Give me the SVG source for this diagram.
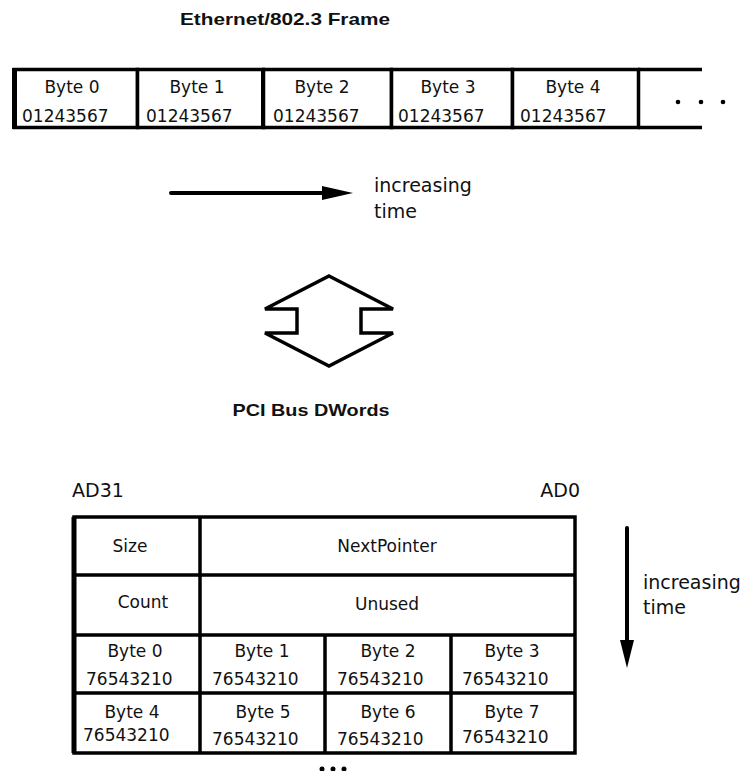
<svg xmlns="http://www.w3.org/2000/svg" width="747" height="771" viewBox="0 0 747 771">
<defs>
<style>
.t{font-family:"DejaVu Sans","Liberation Sans",sans-serif;font-size:17px;fill:#111;}
.c{text-anchor:middle;}
.b{font-family:"Liberation Sans","DejaVu Sans",sans-serif;font-weight:bold;fill:#111;font-size:17px;text-anchor:middle;}
.big{font-size:19px;}
.ln{stroke:#000;stroke-width:3.5;fill:none;}
.cell{stroke:#000;stroke-width:3.5;fill:#fff;}
</style>
</defs>
<rect width="747" height="771" fill="#fff"/>
<text class="b" x="285" y="25" textLength="210" lengthAdjust="spacingAndGlyphs">Ethernet/802.3 Frame</text>

<g id="frame">
<path class="ln" d="M638,69.5 H702 M638,127.5 H702"/>
<rect class="cell" x="14.5" y="69.5" width="123" height="58"/>
<line x1="14.5" y1="68" x2="14.5" y2="129" stroke="#000" stroke-width="5"/>
<rect class="cell" x="137.5" y="69.5" width="126" height="58"/>
<rect class="cell" x="263.5" y="69.5" width="128" height="58"/>
<line x1="262" y1="69" x2="262" y2="128" stroke="#000" stroke-width="2"/>
<rect class="cell" x="391.5" y="69.5" width="121" height="58"/>
<rect class="cell" x="512.5" y="69.5" width="126" height="58"/>
</g>
<g id="frame-text">
<text class="t c" x="72" y="93">Byte 0</text><text class="t" x="22" y="122">01243567</text>
<text class="t c" x="197" y="93">Byte 1</text><text class="t" x="146" y="122">01243567</text>
<text class="t c" x="322" y="93">Byte 2</text><text class="t" x="273" y="122">01243567</text>
<text class="t c" x="448" y="93">Byte 3</text><text class="t" x="398" y="122">01243567</text>
<text class="t c" x="573" y="93">Byte 4</text><text class="t" x="520" y="122">01243567</text>
<circle cx="678" cy="102" r="2.3" fill="#000"/>
<circle cx="701" cy="102" r="2.3" fill="#000"/>
<circle cx="723" cy="102" r="2.3" fill="#000"/>
</g>

<g id="connectors">
<line x1="171" y1="193" x2="324" y2="193" stroke="#000" stroke-width="4" stroke-linecap="round"/>
<path d="M322,186 L353,193 L322,200 Z" fill="#000"/>
<line x1="627" y1="528" x2="627" y2="642" stroke="#000" stroke-width="4" stroke-linecap="round"/>
<path d="M620,640 L627,668 L634,640 Z" fill="#000"/>
</g>
<text class="t big" x="374" y="192">increasing</text>
<text class="t big" x="374" y="218">time</text>

<g id="double-arrow">
<polygon points="329,276 393,309 361,309 361,333 393,333 329,366 265,333 297,333 297,309 265,309" fill="#fff" stroke="#000" stroke-width="3.5" stroke-linejoin="miter"/>
</g>

<text class="b" x="311" y="416" textLength="157" lengthAdjust="spacingAndGlyphs">PCI Bus DWords</text>

<text class="t big" x="72" y="497">AD31</text>
<text class="t big" x="580" y="497" text-anchor="end">AD0</text>

<g id="table">
<rect class="cell" x="74" y="517" width="501" height="236"/>
<line x1="74" y1="517" x2="74" y2="753" stroke="#000" stroke-width="5"/>
<path class="ln" d="M74,575 H575 M74,635 H575 M74,693 H575 M200,517 V753 M325,635 V753 M451,635 V753"/>
</g>
<g id="table-text">
<text class="t c" x="130" y="552">Size</text>
<text class="t c" x="387" y="552">NextPointer</text>
<text class="t c" x="143" y="608">Count</text>
<text class="t c" x="387" y="610">Unused</text>
<text class="t c" x="135" y="657">Byte 0</text><text class="t" x="86" y="685">76543210</text>
<text class="t c" x="262" y="657">Byte 1</text><text class="t" x="212" y="685">76543210</text>
<text class="t c" x="388" y="657">Byte 2</text><text class="t" x="337" y="685">76543210</text>
<text class="t c" x="512" y="657">Byte 3</text><text class="t" x="462" y="685">76543210</text>
<text class="t c" x="132" y="718">Byte 4</text><text class="t" x="83" y="741">76543210</text>
<text class="t c" x="263" y="718">Byte 5</text><text class="t" x="212" y="745">76543210</text>
<text class="t c" x="388" y="718">Byte 6</text><text class="t" x="337" y="745">76543210</text>
<text class="t c" x="512" y="718">Byte 7</text><text class="t" x="462" y="743">76543210</text>
<circle cx="322" cy="769" r="2.5" fill="#000"/>
<circle cx="333" cy="769" r="2.5" fill="#000"/>
<circle cx="344" cy="769" r="2.5" fill="#000"/>
</g>
<text class="t big" x="643" y="589">increasing</text>
<text class="t big" x="643" y="614">time</text>
</svg>
